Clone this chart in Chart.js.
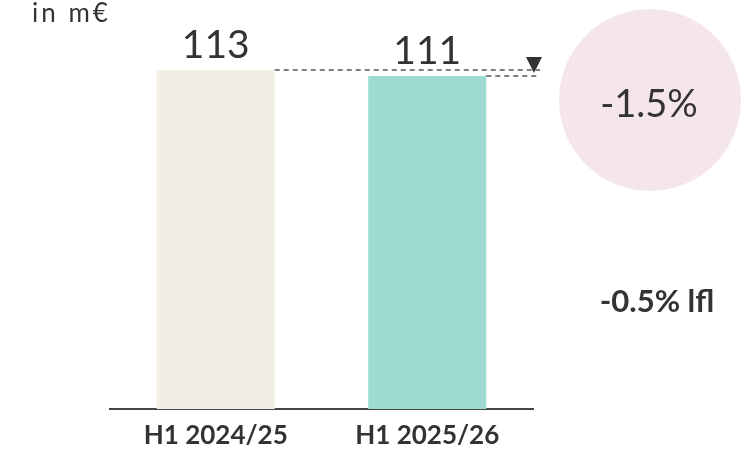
<!DOCTYPE html>
<html>
<head>
<meta charset="utf-8">
<script src="https://cdn.jsdelivr.net/npm/chart.js@4"></script>
<style>
  html, body { margin: 0; padding: 0; background: #fff; }
  #wrap { width: 750px; height: 451px; }
</style>
</head>
<body>
<div id="wrap"><canvas id="chart-sales" width="750" height="451"></canvas></div>
<script>
const categories = ['H1 2024/25', 'H1 2025/26'];
const salesValues = [113, 111];
const barColors = ['#F2EDE5', '#9DDBD2'];
const changeLabel = '-1.5%';
const lflLabel = '-0.5% lfl';
const unitLabel = 'in m€';

const extras = {
  id: 'extras',
  afterDatasetsDraw(chart) {
    const ctx = chart.ctx;
    const bars = chart.getDatasetMeta(0).data;
    ctx.save();

    // value labels on top of bars
    ctx.fillStyle = '#333';
    ctx.font = '39px Lato';
    ctx.textAlign = 'center';
    ctx.textBaseline = 'alphabetic';
    bars.forEach((b, i) => ctx.fillText(String(salesValues[i]), b.x, b.y - 12));

    // dashed reference lines
    const endX = 540;
    ctx.strokeStyle = '#555';
    ctx.lineWidth = 1.3;
    ctx.setLineDash([5, 4]);
    bars.forEach(b => {
      ctx.beginPath();
      ctx.moveTo(b.x + b.width / 2, b.y);
      ctx.lineTo(endX, b.y);
      ctx.stroke();
    });
    ctx.setLineDash([]);

    // down arrow
    const ax = 534, ay = bars[1].y;
    ctx.fillStyle = '#333';
    ctx.beginPath();
    ctx.moveTo(ax - 8, ay - 19);
    ctx.lineTo(ax + 8, ay - 19);
    ctx.lineTo(ax, ay - 3);
    ctx.closePath();
    ctx.fill();

    // circle with change
    ctx.fillStyle = '#F5E6EE';
    ctx.beginPath();
    ctx.arc(650, 100, 91, 0, Math.PI * 2);
    ctx.fill();
    ctx.fillStyle = '#333';
    ctx.font = '38px Lato';
    ctx.fillText(changeLabel, 649, 117);

    ctx.font = 'bold 31px Lato';
    ctx.fillText(lflLabel, 657, 312);

    // unit
    ctx.textAlign = 'left';
    ctx.font = '26px Lato';
    ctx.letterSpacing = '3px';
    ctx.fillText(unitLabel, 32, 22);
    ctx.restore();
  }
};

new Chart(document.getElementById('chart-sales').getContext('2d'), {
  type: 'bar',
  data: {
    labels: categories,
    datasets: [{
      data: salesValues,
      backgroundColor: barColors,
      barPercentage: 0.558,
      categoryPercentage: 1
    }]
  },
  options: {
    responsive: false,
    animation: false,
    layout: { padding: { top: 49, left: 110, right: 217, bottom: 0 } },
    plugins: { legend: { display: false }, tooltip: { enabled: false } },
    scales: {
      y: { display: false, min: 0, max: 120 },
      x: {
        afterFit(scale) { scale.height = 42; },
        grid: { display: false, drawTicks: false },
        border: { display: true, color: '#444', width: 2 },
        ticks: { color: '#333', font: { family: 'Lato', weight: 'bold', size: 26, lineHeight: 1 }, padding: 14 }
      }
    }
  },
  plugins: [extras]
});
</script>
</body>
</html>
